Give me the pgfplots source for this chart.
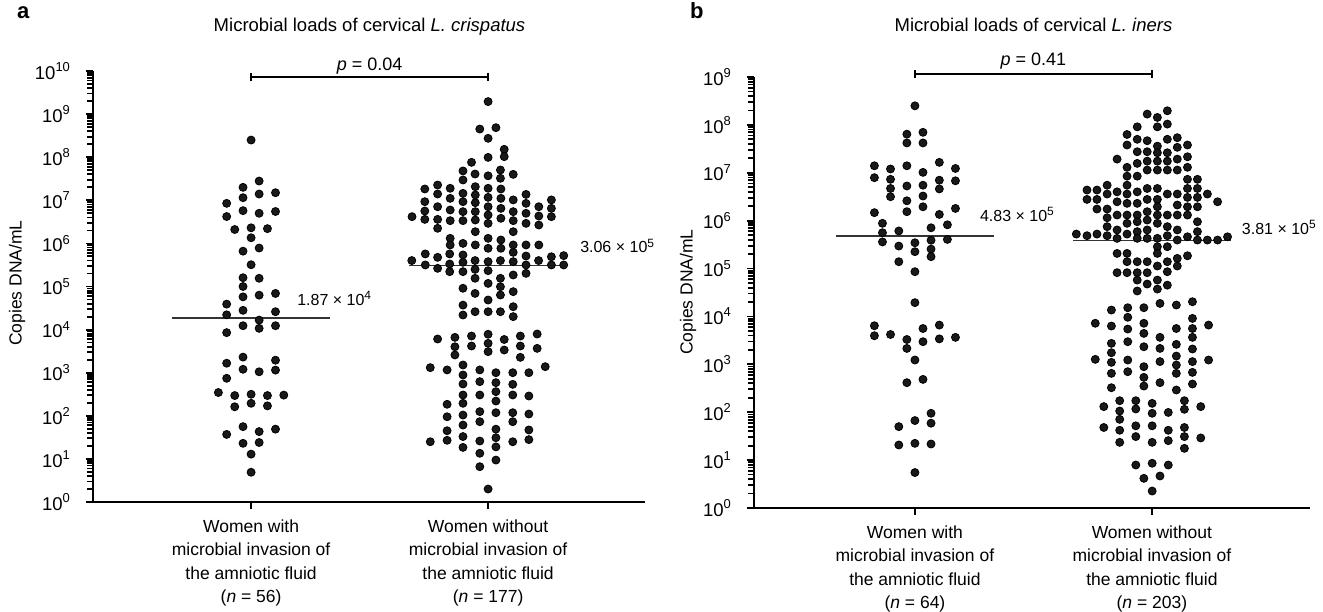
\documentclass[border=0pt]{standalone}
\usepackage{fontspec}
\setmainfont{Liberation Sans}
\usepackage{pgfplots}
\pgfplotsset{compat=1.18}

\begin{document}
\begin{tikzpicture}
\path[use as bounding box] (0,0) rectangle (661.5pt,305.5pt);

% ---------------- panel a ----------------
\begin{axis}[
  ymode=log,
  scale only axis, height=215.5pt, width=276pt,
  at={(46.5pt,54.5pt)}, anchor=south west,
  xmin=0.333, xmax=2.662, ymin=1, ymax=1e10,
  axis x line*=bottom, axis y line*=left,
  axis line style={line width=1.1pt, black},
  tick style={line width=0.9pt, black},
  major tick length=3.5pt,
  tick align=outside,
  xtick={1,2},
  xticklabel style={align=center, font=\fontsize{8.75}{11.6}\selectfont, yshift=-2pt},
  yticklabel style={font=\fontsize{9.25}{10}\selectfont, xshift=-4pt},
  clip=false,
  ytick={1,10,100,1000,1e4,1e5,1e6,1e7,1e8,1e9,1e10},
  extra y ticks={2,3,4,5,6,7,8,9,20,30,40,50,60,70,80,90,200,300,400,500,600,700,800,900,2e3,3e3,4e3,5e3,6e3,7e3,8e3,9e3,2e4,3e4,4e4,5e4,6e4,7e4,8e4,9e4,2e5,3e5,4e5,5e5,6e5,7e5,8e5,9e5,2e6,3e6,4e6,5e6,6e6,7e6,8e6,9e6,2e7,3e7,4e7,5e7,6e7,7e7,8e7,9e7,2e8,3e8,4e8,5e8,6e8,7e8,8e8,9e8,2e9,3e9,4e9,5e9,6e9,7e9,8e9,9e9},
  extra y tick labels={},
  extra y tick style={major tick length=2pt, yticklabel=\empty},
  yticklabels={10\textsuperscript{0},10\textsuperscript{1},10\textsuperscript{2},10\textsuperscript{3},10\textsuperscript{4},10\textsuperscript{5},10\textsuperscript{6},10\textsuperscript{7},10\textsuperscript{8},10\textsuperscript{9},10\textsuperscript{10}},
  xticklabels={{Women with\\microbial invasion of\\the amniotic fluid\\(\textit{n} = 56)},{Women without\\microbial invasion of\\the amniotic fluid\\(\textit{n} = 177)}},
]
% group 1 (with MIAC)
\addplot[only marks, mark=*, mark size=2pt, mark options={fill=black!90, draw=none}] coordinates {
(1.000,2.5e8)
(1.034,2.8e7) (0.966,2.0e7) (1.034,1.4e7) (1.103,1.5e7) (0.966,1.15e7) (0.897,8.5e6) (0.897,4.2e6) (0.966,5.75e6) (1.034,5.0e6) (1.103,5.5e6) (0.931,2.1e6) (1.000,2.3e6) (1.069,2.2e6) (1.000,1.35e6)
(0.966,6.6e5) (1.034,7.8e5) (1.000,3.2e5) (0.966,1.6e5) (1.034,1.55e5) (0.966,1.0e5)
(0.897,3.9e4) (0.966,5.75e4) (1.034,6.3e4) (1.103,6.9e4) (0.897,2.2e4) (0.966,2.8e4) (1.103,2.6e4) (1.034,1.66e4) (1.034,1.07e4) (0.966,1.23e4) (1.103,1.23e4) (0.897,8.5e3)
(0.966,2.3e3) (1.103,1.95e3) (0.897,1.66e3) (0.966,1.2e3) (1.034,1.05e3) (1.103,1.15e3) (0.897,741) (0.862,347) (0.931,295) (1.000,316) (1.069,295) (1.138,302) (0.931,162) (1.000,195) (1.069,170) (0.966,56) (1.103,49) (0.897,37) (1.034,43) (0.966,23) (1.034,24) (1.000,12.9) (1.000,4.9)
};
% group 2 (without MIAC)
\addplot[only marks, mark=*, mark size=2pt, mark options={fill=black!90, draw=none}] coordinates {
(2.000,1.95e9) (1.965,4.5e8) (2.033,4.84e8) (2.000,2.74e8) (2.068,1.52e8) (2.068,1.03e8) (2.000,9.9e7) (1.930,7.6e7) (1.894,4.8e7) (2.052,5.05e7) (1.945,4.07e7) (2.106,4.0e7) (2.000,3.7e7) (2.052,3.24e7) (1.894,2.96e7)
(1.679,4.17e6)
(1.733,1.83e7) (1.733,9.3e6) (1.733,5.65e6) (1.733,3.61e6)
(1.787,2.26e7) (1.787,1.4e7) (1.787,7.1e6) (1.787,3.61e6) (1.787,2.24e6)
(1.840,1.9e7) (1.840,1.11e7) (1.840,5.96e6) (1.840,3.37e6) (1.840,1.31e6) (1.840,9.2e5)
(1.894,1.45e7) (1.894,9.3e6) (1.894,5.45e6) (1.894,3.37e6) (1.894,1.0e6)
(1.946,2.07e7) (1.946,1.33e7) (1.946,8.8e6) (1.946,5.45e6) (1.946,3.49e6) (1.946,1.87e6) (1.946,9.2e5)
(2.000,1.9e7) (2.000,1.17e7) (2.000,7.1e6) (2.000,4.56e6) (2.000,2.92e6) (2.000,1.31e6) (2.000,7.7e5)
(2.054,1.83e7) (2.054,1.11e7) (2.054,6.5e6) (2.054,3.82e6) (2.054,1.2e6) (2.054,7.7e5)
(2.106,1.02e7) (2.106,5.45e6) (2.106,3.37e6) (2.106,1.87e6) (2.106,9.2e5)
(2.160,1.37e7) (2.160,8.5e6) (2.160,4.99e6) (2.160,2.92e6) (2.160,9.2e5)
(2.214,7.1e6) (2.214,4.32e6) (2.214,2.67e6) (2.214,9.2e5)
(2.267,1.02e7) (2.267,6.5e6) (2.267,4.17e6)
(1.678,4.0e5) (1.735,5.7e5) (1.787,4.75e5) (1.838,5.7e5) (1.894,5.4e5) (2.106,6.2e5) (2.160,5.1e5) (2.267,4.9e5) (2.319,5.2e5)
(1.735,3.16e5) (1.787,2.64e5) (1.838,3.33e5) (1.894,3.64e5) (1.945,4.0e5) (2.000,3.77e5) (2.052,4.0e5) (2.106,3.77e5) (2.160,3.16e5) (2.213,4.0e5) (2.267,3.16e5) (2.319,3.16e5)
(1.838,2.21e5) (1.894,2.21e5) (1.945,2.5e5) (2.000,2.33e5) (2.160,2.02e5)
(1.945,1.55e5) (2.052,1.55e5) (2.106,1.85e5)
(2.000,1.18e5) (2.052,9.9e4) (1.894,9.1e4) (1.945,6.9e4) (2.052,6.35e4) (2.106,7.6e4) (2.000,4.86e4)
(1.894,3.7e4) (1.894,2.18e4) (1.945,2.6e4) (2.000,2.6e4) (2.052,2.6e4) (2.106,3.4e4) (2.106,2.0e4)
(1.787,6.05e3) (1.860,6.6e3) (1.860,4.0e3) (1.860,2.58e3) (1.930,7.1e3) (1.930,4.16e3) (2.000,7.8e3) (2.000,4.8e3) (2.000,3.08e3) (2.068,5.9e3) (2.068,3.36e3) (2.136,7.1e3) (2.136,4.16e3) (2.136,2.27e3) (2.207,7.9e3) (2.207,3.67e3)
(1.756,1.31e3) (1.827,1.16e3) (2.241,1.38e3)
(1.894,1.51e3) (1.894,885) (1.894,547) (1.894,304) (1.894,195) (1.894,104) (1.894,61) (1.894,33) (1.894,18.5)
(1.965,1.16e3) (1.965,620) (1.965,304) (1.965,125) (1.965,73) (1.965,26) (1.965,13.5) (1.965,6.6)
(2.033,1.0e3) (2.033,587) (2.033,363) (2.033,220) (2.033,118) (2.033,49) (2.033,31) (2.033,19) (2.033,9.4)
(2.104,1.0e3) (2.104,537) (2.104,304) (2.104,118) (2.104,73) (2.104,25)
(2.172,1.0e3) (2.172,288) (2.172,110) (2.172,47) (2.172,28)
(1.827,185) (1.827,95) (1.827,45) (1.827,27)
(1.756,25) (2.000,2.0)
};
% medians
\addplot[draw=black!80, line width=0.75pt, mark=none] coordinates {(0.665,1.87e4) (1.335,1.87e4)};
\addplot[draw=black!80, line width=0.75pt, mark=none] coordinates {(1.665,3.06e5) (2.335,3.06e5)};
\node[anchor=base west, font=\fontsize{8}{9}\selectfont] at (axis cs:1.165,3.7e4) {1.87 × 10\textsuperscript{4}};
\node[anchor=base west, font=\fontsize{8}{9}\selectfont] at (axis cs:2.359,6.0e5) {3.06 × 10\textsuperscript{5}};
% p-value bracket
\draw[line width=1pt] (axis cs:1,7.3e9) -- (axis cs:2,7.3e9);
\draw[line width=1pt] (axis cs:1,5.9e9) -- (axis cs:1,8.9e9);
\draw[line width=1pt] (axis cs:2,5.9e9) -- (axis cs:2,8.9e9);
\node[anchor=base, font=\fontsize{9}{10}\selectfont] at (axis cs:1.5,1.05e10) {\textit{p} = 0.04};
\end{axis}

% ---------------- panel b ----------------
\begin{axis}[
  ymode=log,
  scale only axis, height=215.5pt, width=278pt,
  at={(377pt,51.5pt)}, anchor=south west,
  xmin=0.321, xmax=2.667, ymin=1, ymax=1e9,
  axis x line*=bottom, axis y line*=left,
  axis line style={line width=1.1pt, black},
  tick style={line width=0.9pt, black},
  major tick length=3.5pt,
  tick align=outside,
  xtick={1,2},
  xticklabel style={align=center, font=\fontsize{8.75}{11.6}\selectfont, yshift=-2pt},
  yticklabel style={font=\fontsize{9.25}{10}\selectfont, xshift=-4pt},
  clip=false,
  ytick={1,10,100,1000,1e4,1e5,1e6,1e7,1e8,1e9},
  extra y ticks={2,3,4,5,6,7,8,9,20,30,40,50,60,70,80,90,200,300,400,500,600,700,800,900,2e3,3e3,4e3,5e3,6e3,7e3,8e3,9e3,2e4,3e4,4e4,5e4,6e4,7e4,8e4,9e4,2e5,3e5,4e5,5e5,6e5,7e5,8e5,9e5,2e6,3e6,4e6,5e6,6e6,7e6,8e6,9e6,2e7,3e7,4e7,5e7,6e7,7e7,8e7,9e7,2e8,3e8,4e8,5e8,6e8,7e8,8e8,9e8},
  extra y tick labels={},
  extra y tick style={major tick length=2pt, yticklabel=\empty},
  yticklabels={10\textsuperscript{0},10\textsuperscript{1},10\textsuperscript{2},10\textsuperscript{3},10\textsuperscript{4},10\textsuperscript{5},10\textsuperscript{6},10\textsuperscript{7},10\textsuperscript{8},10\textsuperscript{9}},
  xticklabels={{Women with\\microbial invasion of\\the amniotic fluid\\(\textit{n} = 64)},{Women without\\microbial invasion of\\the amniotic fluid\\(\textit{n} = 203)}},
]
\addplot[only marks, mark=*, mark size=2pt, mark options={fill=black!90, draw=none}] coordinates {
(1.000,2.5e8)
(0.966,6.4e7) (1.034,7.0e7) (0.966,4.2e7) (1.034,4.2e7)
(0.829,1.4e7) (0.897,1.2e7) (0.966,1.4e7) (1.103,1.65e7) (1.171,1.23e7)
(0.829,7.9e6) (0.897,7.3e6) (1.034,1.02e7) (1.103,7.0e6) (1.171,6.8e6)
(0.897,4.7e6) (0.966,5.3e6) (1.034,5.5e6) (1.103,4.6e6)
(0.897,3.16e6) (1.034,3.27e6)
(0.966,2.6e6) (1.034,1.95e6) (1.171,1.8e6)
(0.829,1.47e6) (0.966,1.54e6) (1.103,1.35e6)
(0.863,8.8e5) (0.863,5.6e5) (0.863,3.6e5)
(0.932,6.1e5) (0.932,2.95e5) (0.932,1.39e5)
(1.000,3.46e5) (1.000,2.25e5) (1.000,8.6e4)
(1.068,7.1e5) (1.068,3.9e5) (1.068,2.55e5) (1.068,1.77e5)
(1.137,8.2e5) (1.137,4.06e5)
(1.000,1.94e4)
(0.829,6.4e3) (0.829,3.96e3) (0.897,4.2e3) (0.966,3.3e3) (0.966,2.15e3) (1.034,5.6e3) (1.034,2.97e3) (1.103,6.6e3) (1.103,3.4e3) (1.171,3.66e3)
(1.000,1.23e3)
(0.966,414) (1.034,485)
(1.068,95) (1.068,59) (1.000,67) (0.932,50)
(0.932,20.7) (1.000,22.4) (1.068,21.7)
(1.000,5.5)
};
\addplot[only marks, mark=*, mark size=2pt, mark options={fill=black!90, draw=none}] coordinates {
(2.065,1.97e8) (1.980,1.68e8) (2.023,1.43e8) (2.065,1.04e8) (1.938,9.1e7) (2.023,9.1e7) (1.895,6.3e7) (2.107,5.4e7) (1.938,5.0e7) (2.065,5.0e7) (1.980,4.67e7) (1.895,3.8e7) (2.150,3.8e7) (2.023,3.6e7) (2.107,3.4e7) (1.938,2.75e7) (1.980,2.75e7) (2.023,2.62e7) (2.065,2.62e7) (2.150,2.16e7) (1.853,1.93e7) (2.107,1.93e7) (1.980,1.75e7) (2.023,1.75e7) (2.065,1.75e7) (1.938,1.57e7) (1.895,1.3e7) (2.150,1.3e7) (1.980,1.14e7) (2.023,1.14e7) (2.065,1.14e7) (2.107,1.14e7)
(1.895,8.5e6) (1.938,8.5e6) (2.150,7.3e6) (2.192,7.3e6) (1.811,5.5e6) (1.895,5.5e6) (1.980,4.7e6) (2.023,4.7e6) (2.150,4.7e6) (2.192,4.7e6) (1.726,4.36e6) (1.768,4.36e6) (1.853,4.0e6) (1.938,4.0e6) (1.811,3.6e6) (1.895,3.6e6) (2.065,3.6e6) (2.107,3.6e6) (2.234,3.6e6) (2.150,3.06e6) (2.192,3.06e6) (1.726,2.78e6) (1.768,2.78e6) (1.980,2.78e6) (2.023,2.78e6) (1.853,2.48e6) (2.277,2.48e6) (1.895,2.3e6) (1.938,2.3e6) (2.107,2.12e6) (2.023,1.95e6) (2.150,1.95e6) (2.192,1.95e6) (1.768,1.75e6) (1.811,1.75e6) (1.980,1.54e6)
(1.853,1.31e6) (1.895,1.31e6) (1.938,1.31e6) (2.023,1.31e6) (2.065,1.31e6) (2.107,1.31e6) (2.150,1.31e6) (1.811,1.15e6) (1.980,1.03e6) (1.938,9.5e5) (2.192,9.5e5) (1.895,8.8e5) (2.023,8.8e5) (1.811,7.5e5) (2.065,7.5e5) (1.853,6.4e5) (1.980,6.4e5) (2.107,6.4e5) (1.938,5.9e5) (2.192,5.9e5) (1.681,5.25e5) (1.768,5.25e5) (1.895,5.25e5) (1.726,4.85e5) (1.811,4.85e5) (2.065,4.85e5) (2.150,4.6e5) (2.319,4.6e5) (1.853,4.27e5) (1.938,4.27e5) (1.980,4.27e5) (2.023,4.27e5) (2.192,3.94e5) (2.234,3.94e5) (2.277,3.94e5) (2.107,3.94e5)
(2.023,2.86e5) (2.065,2.86e5) (1.853,2.07e5) (1.895,2.07e5) (2.023,2.07e5) (2.150,1.85e5) (2.107,1.63e5) (1.895,1.39e5) (1.938,1.39e5) (1.980,1.39e5) (2.065,1.39e5) (2.023,1.13e5) (2.107,1.13e5) (2.065,8.6e4) (1.853,8.2e4) (1.895,8.2e4) (1.938,8.2e4) (1.980,8.2e4)
(1.938,5.75e4) (1.980,4.75e4) (2.023,5.75e4) (2.065,4.5e4) (1.938,3.4e4) (2.023,3.73e4)
(1.829,1.36e4) (1.898,1.52e4) (1.966,1.52e4) (2.034,1.87e4) (2.103,1.73e4) (2.171,2.03e4)
(1.761,7.2e3) (1.829,6.3e3) (1.898,9.6e3) (1.898,5.46e3) (1.966,7.2e3) (1.966,4.43e3) (2.103,5.6e3) (2.171,9.1e3) (2.171,5.6e3) (2.239,6.6e3)
(1.829,2.74e3) (1.829,1.75e3) (1.829,1.1e3) (1.829,648) (1.829,325)
(1.898,2.97e3) (1.898,1.23e3) (1.898,702)
(1.966,2.33e3) (1.966,893) (1.966,534) (1.966,352)
(2.034,3.66e3) (2.034,2.15e3) (2.034,1.14e3) (2.034,414)
(2.103,2.61e3) (2.103,1.49e3) (2.103,967) (2.103,648) (2.103,291)
(2.171,3.66e3) (2.171,2.09e3) (2.171,1.14e3) (2.171,679) (2.171,388)
(1.761,1.27e3) (2.239,1.23e3)
(1.797,131) (1.864,174) (1.864,106) (1.864,71) (1.864,42) (1.864,23.5) (1.797,48)
(1.932,174) (1.932,117) (1.932,52) (1.932,31)
(2.001,153) (2.001,95) (2.001,52) (2.001,23.5)
(2.069,99) (2.069,42) (2.069,25.5)
(2.137,174) (2.137,115) (2.137,48) (2.137,31) (2.137,17.6)
(2.206,131) (2.206,29)
(1.932,7.9) (2.001,8.6) (2.069,7.9)
(1.966,4.16) (2.034,4.66)
(2.001,2.26)
};
\addplot[draw=black!80, line width=0.75pt, mark=none] coordinates {(0.665,4.83e5) (1.335,4.83e5)};
\addplot[draw=black!80, line width=0.75pt, mark=none] coordinates {(1.667,3.81e5) (2.333,3.81e5)};
\node[anchor=base west, font=\fontsize{8}{9}\selectfont] at (axis cs:1.245,9.8e5) {4.83 × 10\textsuperscript{5}};
\node[anchor=base west, font=\fontsize{8}{9}\selectfont] at (axis cs:2.35,5.25e5) {3.81 × 10\textsuperscript{5}};
\draw[line width=1pt] (axis cs:1,1.15e9) -- (axis cs:2,1.15e9);
\draw[line width=1pt] (axis cs:1,9.5e8) -- (axis cs:1,1.39e9);
\draw[line width=1pt] (axis cs:2,9.5e8) -- (axis cs:2,1.39e9);
\node[anchor=base, font=\fontsize{9}{10}\selectfont] at (axis cs:1.5,1.7e9) {\textit{p} = 0.41};
\end{axis}

% titles, panel letters, y labels
\node[anchor=base west, font=\fontsize{11}{12}\selectfont\bfseries] at (5pt,296pt) {a};
\node[anchor=base west, font=\fontsize{11}{12}\selectfont\bfseries] at (341.5pt,296pt) {b};
\node[anchor=base, font=\fontsize{9.25}{11}\selectfont] at (184.75pt,289.5pt) {Microbial loads of cervical \textit{L. crispatus}};
\node[anchor=base, font=\fontsize{9.25}{11}\selectfont] at (516.75pt,289.5pt) {Microbial loads of cervical \textit{L. iners}};
\node[rotate=90, font=\fontsize{8.75}{10}\selectfont] at (8.5pt,164pt) {Copies DNA/mL};
\node[rotate=90, font=\fontsize{8.75}{10}\selectfont] at (344pt,159.5pt) {Copies DNA/mL};
\end{tikzpicture}
\end{document}
